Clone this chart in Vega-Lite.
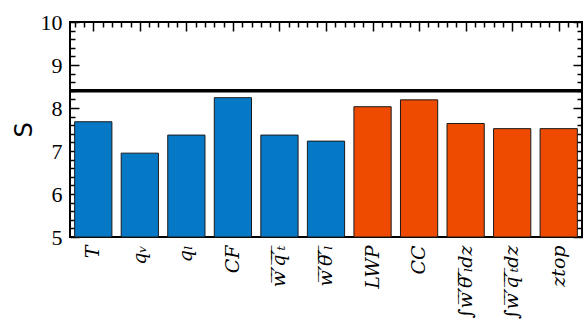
{
  "$schema": "https://vega.github.io/schema/vega-lite/v6.json",
  "width": 512,
  "height": 215,
  "autosize": "none",
  "padding": {"left": 70, "top": 22, "right": 4, "bottom": 91},
  "background": "white",
  "config": {
    "view": {"stroke": "black", "strokeWidth": 2},
    "axis": {"domain": false, "grid": false, "tickColor": "black", "tickWidth": 1.5, "labelColor": "black"}
  },
  "layer": [
    {
      "data": {
        "values": [
          {"var": "T", "S": 7.68, "group": "atm"},
          {"var": "qᵥ", "S": 6.95, "group": "atm"},
          {"var": "qₗ", "S": 7.37, "group": "atm"},
          {"var": "CF", "S": 8.24, "group": "atm"},
          {"var": "w̅′̅q̅′̅ₜ̅", "S": 7.37, "group": "atm"},
          {"var": "w̅′̅θ̅′̅ₗ̅", "S": 7.23, "group": "atm"},
          {"var": "LWP", "S": 8.03, "group": "int"},
          {"var": "CC", "S": 8.19, "group": "int"},
          {"var": "∫w̅′̅θ̅′̅ₗ̅dz", "S": 7.64, "group": "int"},
          {"var": "∫w̅′̅q̅′̅ₜ̅dz", "S": 7.52, "group": "int"},
          {"var": "ztop", "S": 7.52, "group": "int"}
        ]
      },
      "mark": {"type": "bar", "stroke": "#1a1a1a", "strokeWidth": 1},
      "encoding": {
        "x": {
          "field": "var", "type": "nominal", "sort": null,
          "scale": {"paddingInner": 0.2, "paddingOuter": 0.1},
          "axis": {"orient": "bottom", "title": null, "ticks": false, "labelAngle": -90, "labelPadding": 8,
                   "labelFont": "DejaVu Serif", "labelFontStyle": "italic", "labelFontSize": 19, "labelOverlap": false}
        },
        "y": {
          "field": "S", "type": "quantitative",
          "scale": {"domain": [5, 10], "nice": false, "zero": false},
          "axis": {
            "orient": "left", "title": "S", "titleFont": "DejaVu Sans", "titleFontSize": 24, "titleFontWeight": "normal", "titlePadding": 4, "titleAngle": 270,
            "values": [5, 5.2, 5.4, 5.6, 5.8, 6, 6.2, 6.4, 6.6, 6.8, 7, 7.2, 7.4, 7.6, 7.8, 8, 8.2, 8.4, 8.6, 8.8, 9, 9.2, 9.4, 9.6, 9.8, 10],
            "labelExpr": "abs(datum.value - round(datum.value)) < 0.001 ? format(datum.value, 'd') : ''",
            "labelFont": "Liberation Serif", "labelFontSize": 22, "labelFlush": false, "labelOverlap": false,
            "tickSize": {"condition": {"test": "abs(datum.value - round(datum.value)) < 0.001", "value": -9}, "value": -5},
            "labelPadding": 17
          }
        },
        "y2": {"datum": 5},
        "color": {"field": "group", "type": "nominal", "scale": {"domain": ["atm", "int"], "range": ["#0679C6", "#EE4A00"]}, "legend": null}
      }
    },
    {
      "data": {"values": [{}]},
      "mark": {"type": "rule", "strokeWidth": 3.5, "color": "black"},
      "encoding": {
        "x": {"datum": 0, "type": "quantitative", "scale": {"domain": [0, 11], "nice": false, "zero": false},
              "axis": {"orient": "top", "title": null, "labels": false,
                       "values": [0.1, 0.3, 0.5, 0.7, 0.9, 1.1, 1.3, 1.5, 1.7, 1.9, 2.1, 2.3, 2.5, 2.7, 2.9, 3.1, 3.3, 3.5, 3.7, 3.9, 4.1, 4.3, 4.5, 4.7, 4.9, 5.1, 5.3, 5.5, 5.7, 5.9, 6.1, 6.3, 6.5, 6.7, 6.9, 7.1, 7.3, 7.5, 7.7, 7.9, 8.1, 8.3, 8.5, 8.7, 8.9, 9.1, 9.3, 9.5, 9.7, 9.9, 10.1, 10.3, 10.5, 10.7, 10.9],
                       "tickSize": {"condition": {"test": "abs(datum.value % 1 - 0.5) < 0.01", "value": -9}, "value": -5}}},
        "x2": {"datum": 11},
        "y": {"datum": 8.4, "type": "quantitative", "scale": {"domain": [5, 10], "nice": false, "zero": false},
              "axis": {"orient": "right", "title": null, "labels": false,
                       "values": [5, 5.2, 5.4, 5.6, 5.8, 6, 6.2, 6.4, 6.6, 6.8, 7, 7.2, 7.4, 7.6, 7.8, 8, 8.2, 8.4, 8.6, 8.8, 9, 9.2, 9.4, 9.6, 9.8, 10],
                       "tickSize": {"condition": {"test": "abs(datum.value - round(datum.value)) < 0.001", "value": -9}, "value": -5}}}
      }
    }
  ],
  "resolve": {"scale": {"x": "independent", "y": "independent"}, "axis": {"x": "independent", "y": "independent"}}
}
